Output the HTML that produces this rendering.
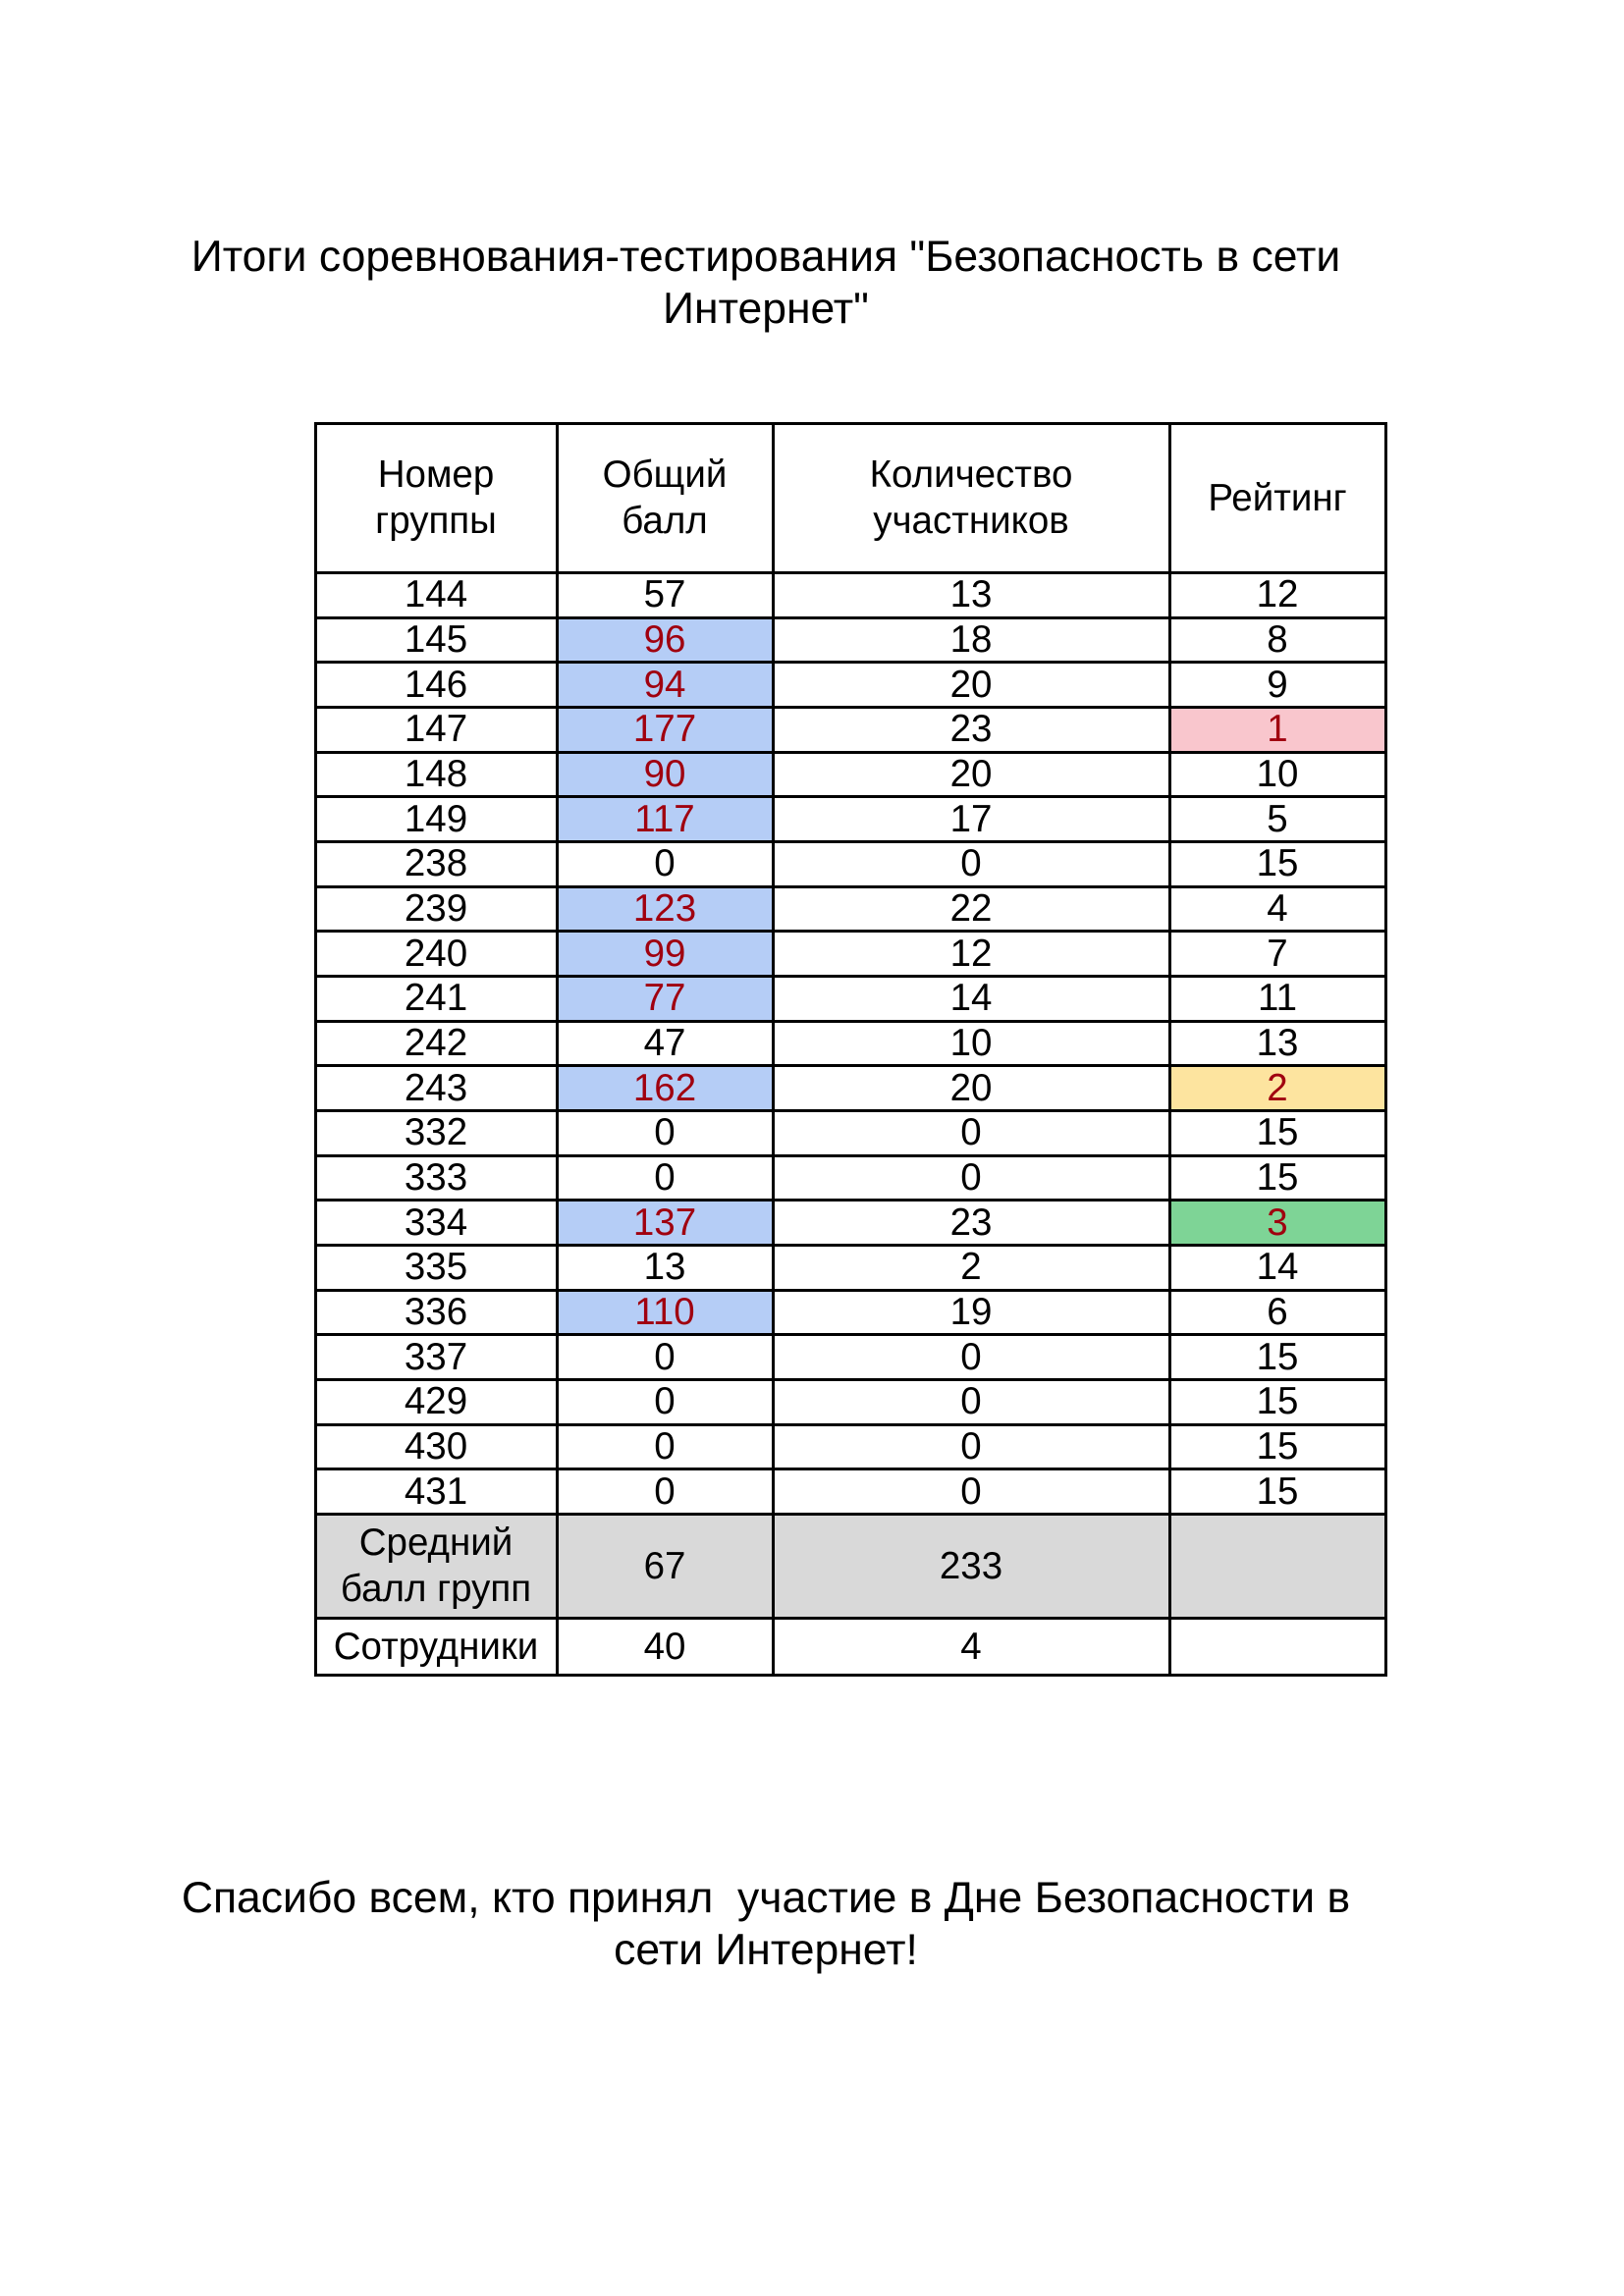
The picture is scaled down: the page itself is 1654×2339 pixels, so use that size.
<!DOCTYPE html>
<html><head><meta charset="utf-8">
<style>
body{margin:0;width:1654px;height:2339px;background:#fff;position:relative;font-family:"Liberation Sans",Arial,sans-serif;overflow:hidden}
.t{position:absolute;left:0;width:1560px;text-align:center;font-size:44.5px;line-height:53px;color:#000}
#tbl{position:absolute;left:0;top:0}
.c{position:absolute;box-sizing:border-box;display:flex;align-items:center;justify-content:center;text-align:center;font-size:38.5px;line-height:47px;color:#000}
.h{position:absolute;background:#000}
</style></head><body>
<div class="t" style="top:235px">Итоги соревнования-тестирования "Безопасность в сети<br>Интернет"</div>
<div id="tbl"></div>
<div class="t" style="top:1907px">Спасибо всем, кто принял&nbsp; участие в Дне Безопасности в<br>сети Интернет!</div>
<script>
const groups=["144","145","146","147","148","149","238","239","240","241","242","243","332","333","334","335","336","337","429","430","431"];
const scores=[57,96,94,177,90,117,0,123,99,77,47,162,0,0,137,13,110,0,0,0,0];
const counts=[13,18,20,23,20,17,0,22,12,14,10,20,0,0,23,2,19,0,0,0,0];
const ranks=[12,8,9,1,10,5,15,4,7,11,13,2,15,15,3,14,6,15,15,15,15];
const headers=["Номер<br>группы","Общий<br>балл","Количество<br>участников","Рейтинг"];
const xs=[321,567,787,1191,1411];
const tbl=document.getElementById('tbl');
function cell(col,y0,y1,html,bg,color,name){
  const d=document.createElement('div');d.className='c';
  
  
  d.style.left=xs[col]+'px';d.style.width=(xs[col+1]-xs[col])+'px';
  d.style.top=y0+'px';d.style.height=(y1-y0)+'px';
  if(bg)d.style.background=bg;if(color)d.style.color=color;
  d.innerHTML=html;tbl.appendChild(d);
}
const top0=431,hb=583,rh=45.67,rEnd=hb+rh*groups.length,avgEnd=1648,lastEnd=1706;
headers.forEach((h,i)=>cell(i,top0,hb,h,null,null,'header-cell'));
const rankBg={1:'#f9c6cd',2:'#fde49f',3:'#7ed496'};
for(let i=0;i<groups.length;i++){
  const y0=hb+rh*i,y1=y0+rh;
  cell(0,y0,y1,groups[i],null,null,'group-cell');
  const hi=scores[i]>75;
  cell(1,y0,y1,scores[i],hi?'#b5cdf6':null,hi?'#a0000f':null,'score-cell');
  cell(2,y0,y1,counts[i],null,null,'count-cell');
  const rb=rankBg[ranks[i]];
  cell(3,y0,y1,ranks[i],rb||null,rb?'#a0000f':null,'rank-cell');
}
cell(0,rEnd,avgEnd,'Средний<br>балл групп','#d9d9d9',null,'average-label');
cell(1,rEnd,avgEnd,'67','#d9d9d9',null,'average-score');
cell(2,rEnd,avgEnd,'233','#d9d9d9',null,'average-count');
cell(3,rEnd,avgEnd,'','#d9d9d9',null,'average-rank');
cell(0,avgEnd,lastEnd,'Сотрудники',null,null,'staff-label');
cell(1,avgEnd,lastEnd,'40',null,null,'staff-score');
cell(2,avgEnd,lastEnd,'4',null,null,'staff-count');
cell(3,avgEnd,lastEnd,'',null,null,'staff-rank');
function line(x,y,w,h){const d=document.createElement('div');d.className='h';
  
  
  d.style.left=x+'px';d.style.top=y+'px';d.style.width=w+'px';d.style.height=h+'px';tbl.appendChild(d);}
const ys=[top0,hb];for(let i=1;i<=groups.length;i++)ys.push(hb+rh*i);ys.push(avgEnd,lastEnd);
ys.forEach(y=>line(xs[0]-1,Math.round(y)-1,xs[4]-xs[0]+3,3));
xs.forEach(x=>line(x-1,top0-1,3,lastEnd-top0+2));
</script>
</body></html>
